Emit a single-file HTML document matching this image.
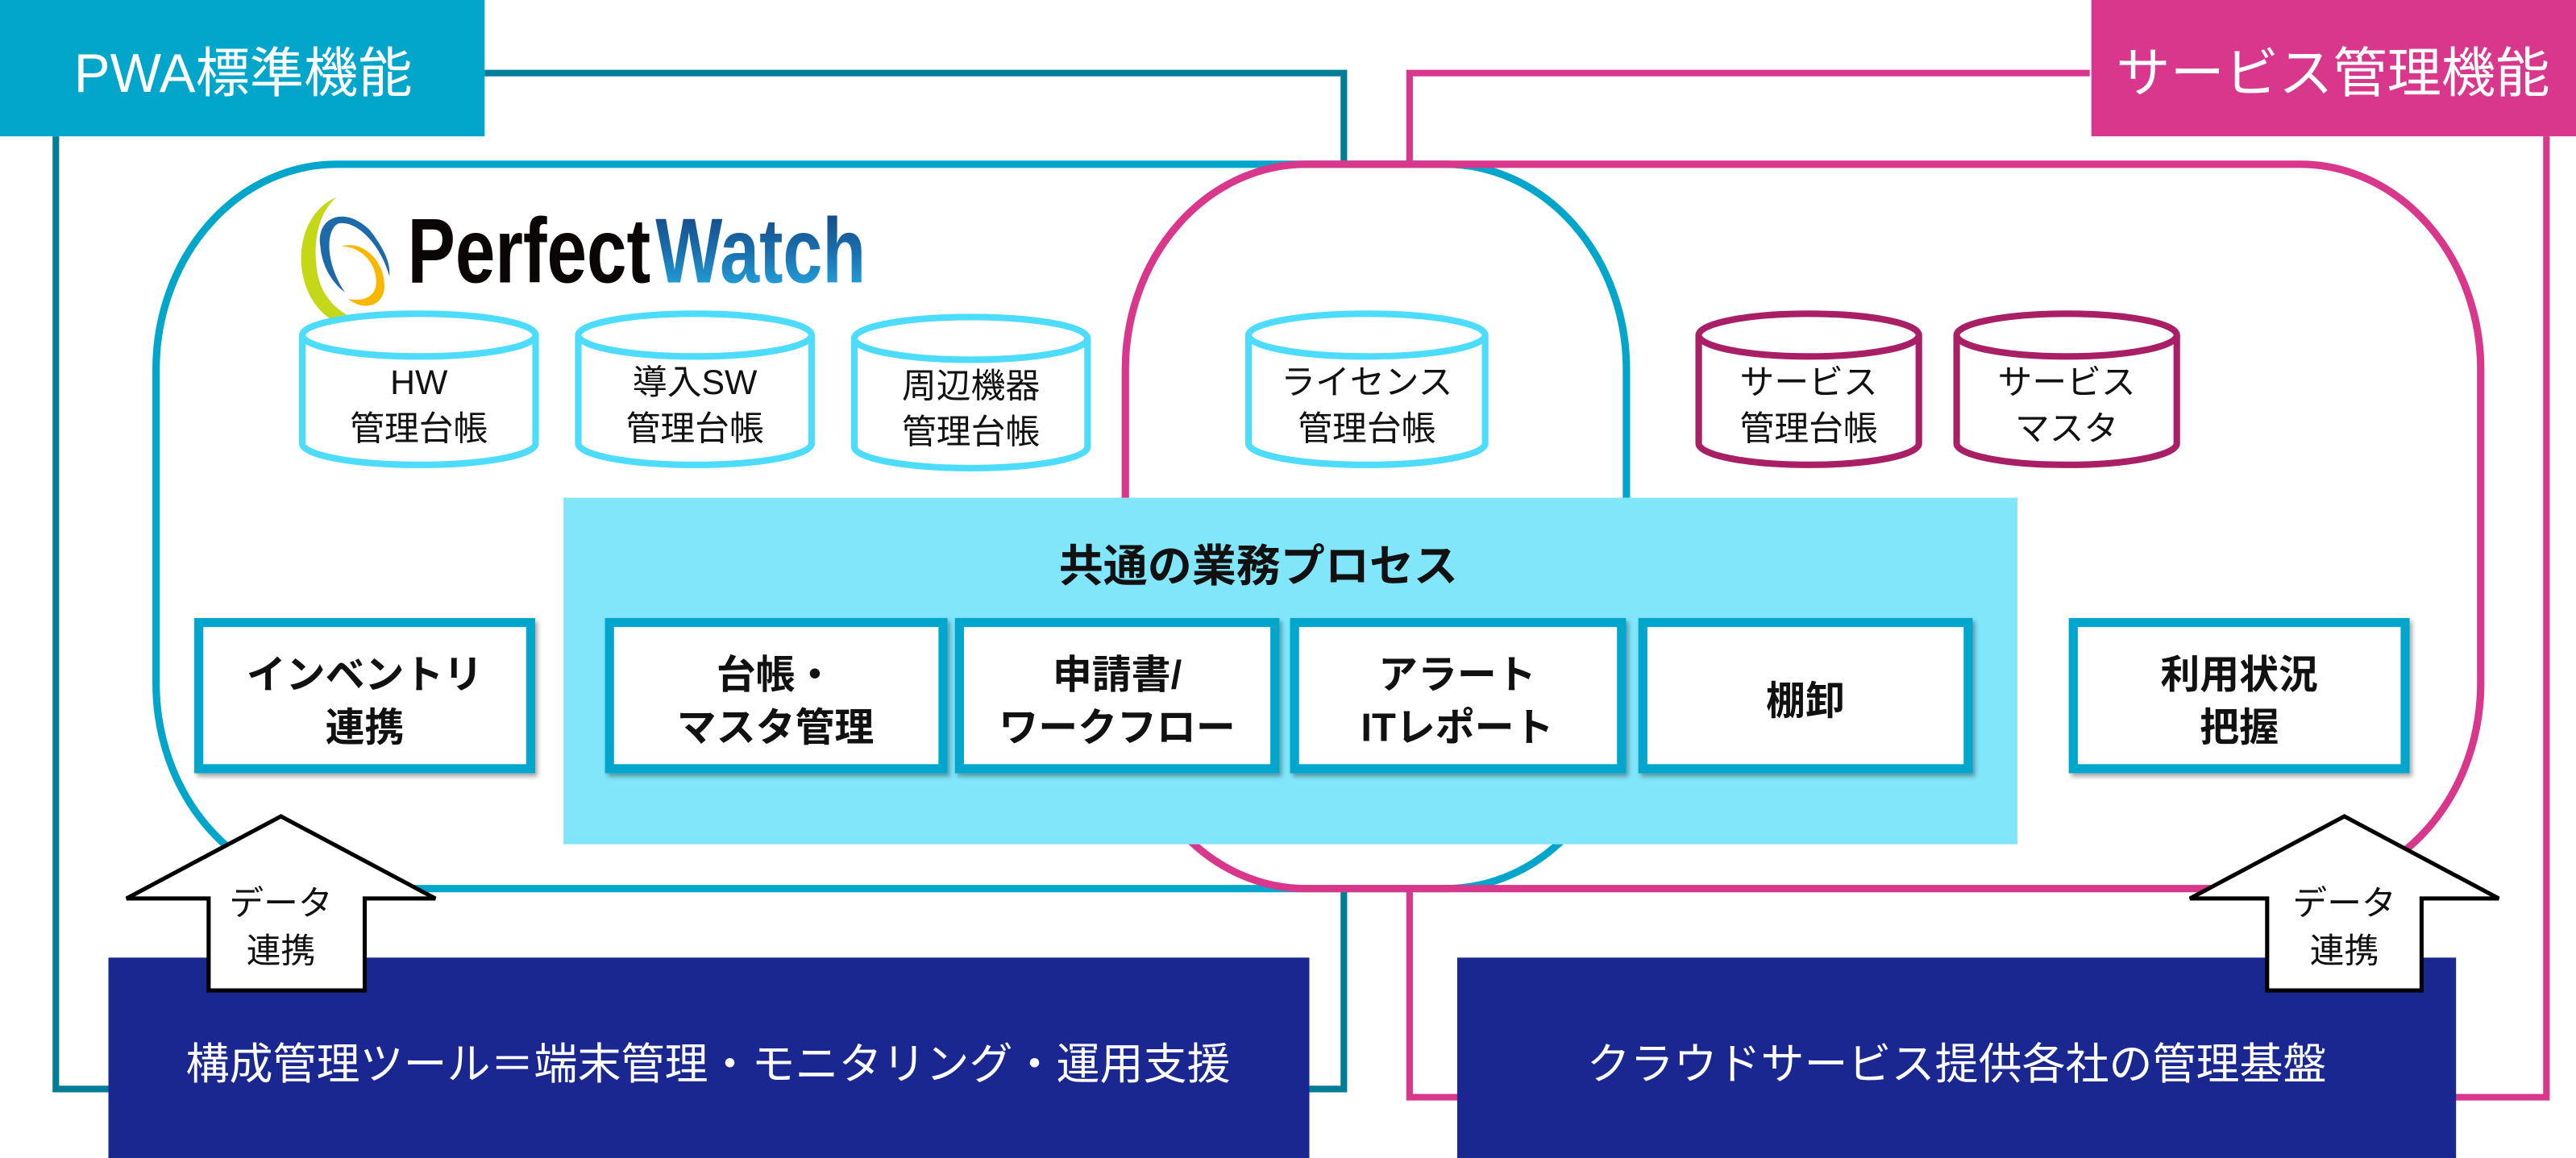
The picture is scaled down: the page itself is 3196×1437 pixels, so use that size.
<!DOCTYPE html>
<html><head><meta charset="utf-8"><style>
html,body{margin:0;padding:0;background:#fff;}
svg{display:block;}
text{font-family:"Liberation Sans","Noto Sans CJK JP",sans-serif;}
</style></head><body>
<svg width="3196" height="1437" viewBox="0 0 1568 705" xmlns="http://www.w3.org/2000/svg">
<defs>
<linearGradient id="wg" x1="0" y1="0" x2="0" y2="1">
<stop offset="0" stop-color="#123f7a"/><stop offset="0.5" stop-color="#1a6fae"/><stop offset="1" stop-color="#27b5ea"/>
</linearGradient>
<filter id="sh" x="-10%" y="-10%" width="130%" height="130%"><feDropShadow dx="1.5" dy="2" stdDeviation="1.5" flood-color="#000" flood-opacity="0.35"/></filter>
</defs>
<rect width="1568" height="705" fill="#fff"/>
<!-- outer frames -->
<polyline points="295,44.5 818,44.5 818,663 34,663 34,83" fill="none" stroke="#027d98" stroke-width="4"/>
<polyline points="1272,44.5 858,44.5 858,668 1550,668 1550,83" fill="none" stroke="#d9378b" stroke-width="4"/>
<!-- labels -->
<rect x="0" y="0" width="295" height="83" fill="#03a6cb"/>
<text x="148" y="56" font-size="33" fill="#fff" text-anchor="middle">PWA標準機能</text>
<rect x="1273" y="0" width="295" height="83" fill="#d9378b"/>
<text x="1420" y="56" font-size="33" fill="#fff" text-anchor="middle">サービス管理機能</text>
<!-- white fills of rounded rects -->
<rect x="95" y="100" width="895" height="441" rx="110" ry="125" fill="#fff"/>
<rect x="685" y="100" width="825" height="441" rx="110" ry="125" fill="#fff"/>
<!-- strokes -->
<rect x="95" y="100" width="895" height="441" rx="110" ry="125" fill="none" stroke="#03a6cb" stroke-width="4.5"/>
<rect x="685" y="100" width="825" height="441" rx="110" ry="125" fill="none" stroke="#d9378b" stroke-width="4.5"/>
<!-- logo -->
<g>
<path d="M205,120 C180,130 176,170 196,190 C206,200 220,202 232,196 C215,198 196,186 193,165 C190,145 195,128 205,120 Z" fill="#c4d817"/>
<path d="M195,150 C192,132 210,125 225,140 C233,150 238,160 237,168 C232,150 218,134 206,136 C198,140 198,160 210,178 C202,172 196,162 195,150 Z" fill="#1d6aaa"/>
<path d="M208,150 C220,146 234,158 234,174 C234,186 222,190 212,182 C222,184 230,180 229,170 C228,158 218,150 208,150 Z" fill="#f9b700"/>
<text x="248" y="172" font-size="56" font-weight="bold" fill="#0a0605" textLength="148" lengthAdjust="spacingAndGlyphs">Perfect</text>
<text x="399" y="172" font-size="56" font-weight="bold" fill="url(#wg)" textLength="128" lengthAdjust="spacingAndGlyphs">Watch</text>
</g>
<!-- cylinders -->
<g stroke-width="4" fill="#fff">
<g stroke="#4ddcfb">
<path d="M184,204 L184,270 A71,13 0 0 0 326,270 L326,204"/>
<ellipse cx="255" cy="204" rx="71" ry="13"/>
<path d="M352,204 L352,270 A71,13 0 0 0 494,270 L494,204"/>
<ellipse cx="423" cy="204" rx="71" ry="13"/>
<path d="M520,206 L520,272 A71,13 0 0 0 662,272 L662,206"/>
<ellipse cx="591" cy="206" rx="71" ry="13"/>
<path d="M760,204 L760,270 A72,13 0 0 0 904,270 L904,204"/>
<ellipse cx="832" cy="204" rx="72" ry="13"/>
</g>
<g stroke="#a91f66">
<path d="M1034,204 L1034,270 A67,13 0 0 0 1168,270 L1168,204"/>
<ellipse cx="1101" cy="204" rx="67" ry="13"/>
<path d="M1191,204 L1191,270 A67,13 0 0 0 1325,270 L1325,204"/>
<ellipse cx="1258" cy="204" rx="67" ry="13"/>
</g>
</g>
<g font-size="21" fill="#111" text-anchor="middle">
<text x="255" y="240">HW</text><text x="255" y="268">管理台帳</text>
<text x="423" y="240">導入SW</text><text x="423" y="268">管理台帳</text>
<text x="591" y="242">周辺機器</text><text x="591" y="270">管理台帳</text>
<text x="832" y="240">ライセンス</text><text x="832" y="268">管理台帳</text>
<text x="1101" y="240">サービス</text><text x="1101" y="268">管理台帳</text>
<text x="1258" y="240">サービス</text><text x="1258" y="268">マスタ</text>
</g>
<!-- common process -->
<rect x="343" y="303" width="885" height="211" fill="#82e6fb"/>
<text x="766" y="354" font-size="27" font-weight="bold" fill="#111" text-anchor="middle">共通の業務プロセス</text>
<g fill="#fff" stroke="#03a6cb" stroke-width="5.5" filter="url(#sh)">
<rect x="121" y="379" width="202" height="89"/>
<rect x="371" y="379" width="203" height="89"/>
<rect x="584" y="379" width="192" height="89"/>
<rect x="788" y="379" width="199" height="89"/>
<rect x="1000" y="379" width="198" height="89"/>
<rect x="1262" y="379" width="202" height="89"/>
</g>
<g font-size="24" font-weight="bold" fill="#111" text-anchor="middle">
<text x="222" y="419">インベントリ</text><text x="222" y="451">連携</text>
<text x="472" y="419">台帳・</text><text x="472" y="451">マスタ管理</text>
<text x="680" y="419">申請書/</text><text x="680" y="451">ワークフロー</text>
<text x="887" y="419">アラート</text><text x="887" y="451">ITレポート</text>
<text x="1099" y="435">棚卸</text>
<text x="1363" y="419">利用状況</text><text x="1363" y="451">把握</text>
</g>
<!-- dark boxes -->
<rect x="66" y="583" width="731" height="122" fill="#1b2790"/>
<text x="431" y="657" font-size="26.5" fill="#fff" text-anchor="middle">構成管理ツール＝端末管理・モニタリング・運用支援</text>
<rect x="887" y="583" width="608" height="122" fill="#1b2790"/>
<text x="1191" y="657" font-size="26.5" fill="#fff" text-anchor="middle">クラウドサービス提供各社の管理基盤</text>
<!-- arrows -->
<g fill="#fff" stroke="#000" stroke-width="2.5" stroke-linejoin="miter">
<polygon points="171,497 265,547 222,547 222,603 127,603 127,547 77,547"/>
<polygon points="1427,497 1521,547 1474,547 1474,603 1380,603 1380,547 1333,547"/>
</g>
<g font-size="21" fill="#111" text-anchor="middle">
<text x="171" y="557">データ</text><text x="171" y="586">連携</text>
<text x="1427" y="557">データ</text><text x="1427" y="586">連携</text>
</g>
</svg>
</body></html>
